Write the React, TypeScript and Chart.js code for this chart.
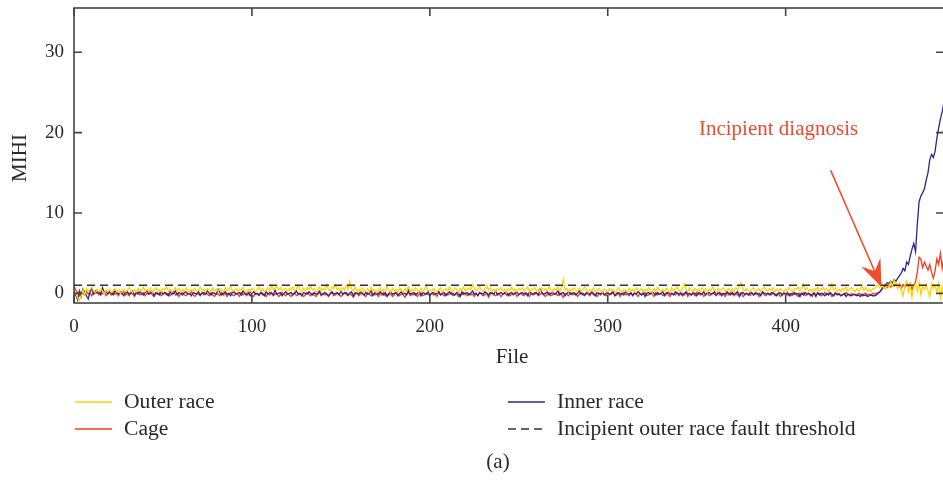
import React, { useEffect, useRef } from "react";
import { Chart, registerables } from "chart.js";
Chart.register(...registerables);

// ---------- data ----------
const OUTER_RACE = [
  0.3, 0.1, -0.6, -0.9, -0.3, 0.4, -0.2, 0.6, 0.2, 0.5,
  0.8, 0.3, 0.1, 0.4, 0.2, 0.6, 0.3, 0.0, 0.4, 0.2,
  0.5, 0.1, 0.3, 0.6, 0.2, 0.4, 0.0, 0.3, 0.5, 0.2,
  0.4, 0.7, 0.3, 0.1, 0.5, 0.2, 0.6, 0.3, 0.4, 0.8,
  0.2, 0.5, 0.3, 0.6, 0.1, 0.4, 0.7, 0.3, 0.5, 0.2,
  0.6, 0.4, 0.8, 0.3, 0.5, 0.2, 0.4, 0.7, 0.3, 0.6,
  0.2, 0.5, 0.3, 0.7, 0.4, 0.1, 0.5, 0.3, 0.6, 0.2,
  0.4, 0.8, 0.3, 0.5, 0.2, 0.6, 0.4, 0.3, 0.7, 0.2,
  0.5, 0.3, 0.6, 0.4, 0.2, 0.7, 0.3, 0.5, 0.9, 0.4,
  0.3, 0.6, 0.2, 0.5, 0.4, 0.7, 0.3, 0.1, 0.5, 0.3,
  0.6, 0.4, 0.2, 0.5, 0.8, 0.3, 0.6, 0.2, 0.4, 0.7,
  0.3, 1.0, 0.5, 0.6, 0.9, 0.4, 0.7, 0.3, 0.5, 0.6,
  0.2, 0.6, 0.4, 0.8, 0.3, 0.5, 1.0, 0.4, 0.2, 0.6,
  0.3, 0.7, 0.5, 0.9, 0.4, 0.6, 0.2, 0.5, 0.8, 0.3,
  0.6, 0.4, 1.1, 0.5, 0.3, 0.8, 0.6, 1.0, 0.4, 0.7,
  0.3, 0.7, 0.4, 1.0, 0.5, 1.5, 0.6, 0.3, 0.8, 0.2,
  0.5, 0.3, 0.7, 0.1, 0.4, 0.6, 0.2, 0.8, 0.3, 0.5,
  0.1, 0.4, 0.7, 0.2, 0.5, 0.3, 0.9, 0.4, 0.1, 0.6,
  0.3, 0.5, 0.2, 0.7, 0.4, 0.1, 0.6, 0.3, 0.8, 0.2,
  0.5, 0.3, 0.7, 0.4, 0.1, 0.6, 0.2, 0.5, 0.9, 0.3,
  0.4, 0.2, 0.6, 0.3, 0.1, 0.5, 0.7, 0.2, 0.4, 0.6,
  0.3, 0.8, 0.4, 0.2, 0.7, 0.5, 0.1, 0.6, 0.4, 0.8,
  0.3, 0.5, 0.7, 0.4, 1.1, 0.6, 0.3, 0.5, 0.8, 0.4,
  0.2, 0.6, 1.0, 0.4, 0.7, 0.3, 0.5, 0.2, 0.6, 0.4,
  0.7, 0.3, 0.5, 0.1, 0.6, 0.4, 0.8, 0.3, 0.5, 0.2,
  0.6, 0.4, 0.7, 0.3, 0.5, 0.8, 0.2, 0.6, 0.4, 0.7,
  0.3, 0.5, 0.2, 0.7, 0.4, 0.6, 0.3, 0.8, 0.5, 0.2,
  0.6, 0.4, 0.8, 0.3, 0.7, 1.7, 0.4, 0.6, 0.2, 0.5,
  0.3, 0.7, 0.4, 0.2, 0.6, 0.3, 0.5, 0.8, 0.4, 0.1,
  0.5, 0.3, 0.7, 0.2, 0.4, 0.6, 0.3, 0.1, 0.5, 0.4,
  0.2, 0.6, 0.3, 0.5, 0.1, 0.4, 0.7, 0.3, 0.2, 0.5,
  0.4, 0.1, 0.6, 0.3, 0.5, 0.2, 0.7, 0.4, 0.3, 0.6,
  0.2, 0.5, 0.3, 0.7, 0.4, 0.1, 0.6, 0.3, 0.8, 0.4,
  0.2, 0.5, 0.3, 0.6, 0.4, 0.1, 0.7, 0.3, 0.5, 0.8,
  0.4, 0.2, 0.6, 1.2, 0.5, 0.3, 0.7, 0.4, 0.2, 0.6,
  0.3, 0.5, 0.2, 0.7, 0.4, 0.6, 0.1, 0.5, 0.3, 0.8,
  0.4, 0.2, 0.6, 0.3, 0.5, 0.7, 0.2, 0.4, 0.6, 0.3,
  0.5, 0.2, 0.7, 0.4, 0.9, 1.3, 0.5, 0.3, 0.6, 0.4,
  0.2, 0.5, 0.7, 0.3, 0.4, 0.6, 0.2, 0.5, 0.8, 0.4,
  0.3, 0.6, 0.4, 0.7, 0.2, 0.5, 0.3, 0.6, 0.4, 0.2,
  0.5, 0.3, 0.7, 0.4, 0.2, 0.6, 0.5, 0.8, 0.3, 0.6,
  1.1, 0.4, 0.7, 0.3, 0.5, 0.2, 0.6, 0.4, 0.8, 0.3,
  0.5, 0.7, 0.4, 0.6, 0.2, 0.5, 1.2, 0.4, 0.7, 0.3,
  0.5, 0.2, 0.6, 0.4, 0.8, 0.3, 0.5, 0.7, 0.4, 0.2,
  0.6, 0.3, 0.5, 0.9, 0.4, 0.7, 0.3, 0.5, 0.2, 0.6,
  0.6, 0.9, 1.0, 0.7, 1.2, 0.8, 0.5, 1.1, 0.7, 1.4,
  0.9, 1.6, 1.2, 0.6, 1.3, 0.4, -0.3, 0.9, 1.5, 0.2,
  1.0, -0.5, 0.8, 1.2, 0.3, 1.4, -0.2, 0.9, 0.5, 1.1,
  0.4, -0.4, 1.2, 0.6, 0.9, 0.2, 1.3, -0.6, 0.8, -0.9,
];

const CAGE = [
  0.9, 0.4, 0.1, -0.3, 0.2, 0.0, -0.2, 0.3, -0.1, 0.1,
  -0.3, 0.2, 0.0, 0.4, -0.2, 0.1, -0.1, 0.2, -0.3, 0.0,
  0.1, -0.2, 0.2, -0.1, 0.0, -0.3, 0.1, -0.1, 0.2, -0.2,
  0.0, -0.3, 0.1, -0.1, -0.4, 0.0, 0.2, -0.2, -0.1, 0.1,
  -0.3, 0.0, -0.1, 0.2, -0.2, -0.4, 0.0, -0.1, 0.1, -0.3,
  -0.1, 0.1, -0.2, 0.0, -0.3, -0.1, 0.2, -0.2, 0.0, -0.4,
  -0.1, 0.1, -0.2, -0.3, 0.0, -0.1, 0.2, -0.2, -0.4, 0.0,
  -0.1, -0.3, 0.1, -0.2, 0.0, -0.1, -0.3, 0.1, -0.2, -0.4,
  0.0, -0.1, -0.3, 0.1, -0.2, 0.0, -0.4, -0.1, 0.1, -0.2,
  -0.3, 0.0, -0.1, -0.4, 0.1, -0.2, 0.0, -0.3, -0.1, 0.2,
  -0.2, -0.4, 0.0, -0.1, -0.3, 0.1, -0.2, -0.1, -0.4, 0.0,
  -0.2, 0.1, -0.3, -0.1, 0.0, -0.4, -0.2, 0.1, -0.1, -0.3,
  0.0, -0.2, -0.4, -0.1, 0.1, -0.3, -0.2, 0.0, -0.1, -0.4,
  -0.2, 0.1, -0.1, -0.3, 0.0, -0.2, -0.4, -0.1, 0.1, -0.3,
  -0.1, -0.2, 0.0, -0.4, -0.1, 0.1, -0.3, -0.2, 0.0, -0.1,
  -0.4, -0.2, 0.1, -0.1, -0.3, 0.0, -0.2, -0.5, -0.1, 0.1,
  -0.3, -0.1, 0.0, -0.2, -0.4, 0.1, -0.1, -0.3, 0.0, -0.2,
  -0.1, -0.4, 0.0, -0.2, 0.1, -0.3, -0.1, -0.2, 0.0, -0.4,
  -0.2, 0.1, -0.1, -0.3, 0.0, -0.2, -0.5, -0.1, 0.1, -0.3,
  -0.1, -0.2, 0.0, -0.4, -0.1, 0.1, -0.3, -0.2, 0.0, -0.1,
  -0.3, 0.0, -0.2, -0.1, -0.4, 0.1, -0.2, -0.1, -0.3, 0.0,
  -0.2, -0.1, 0.1, -0.3, -0.2, 0.0, -0.4, -0.1, -0.2, 0.1,
  -0.1, -0.3, 0.0, -0.2, -0.1, -0.4, 0.0, -0.2, 0.1, -0.1,
  -0.3, -0.2, 0.0, -0.5, -0.1, 0.1, -0.2, -0.3, 0.0, -0.1,
  -0.4, -0.1, 0.1, -0.2, 0.0, -0.3, -0.1, -0.2, 0.1, -0.4,
  -0.1, 0.0, -0.2, -0.3, 0.1, -0.1, -0.4, 0.0, -0.2, -0.1,
  0.1, -0.3, -0.1, 0.0, -0.2, -0.4, -0.1, 0.1, -0.3, -0.2,
  0.0, -0.1, -0.3, 0.1, -0.2, -0.5, 0.0, -0.1, -0.3, 0.1,
  -0.2, -0.1, 0.0, -0.4, -0.1, 0.1, -0.2, -0.3, 0.0, -0.1,
  -0.3, 0.1, -0.2, -0.1, -0.4, 0.0, -0.2, 0.1, -0.1, -0.3,
  0.0, -0.2, -0.1, 0.1, -0.3, -0.2, 0.0, -0.4, -0.1, 0.1,
  -0.2, -0.1, -0.3, 0.0, -0.2, 0.1, -0.1, -0.4, 0.0, -0.2,
  -0.1, 0.1, -0.3, -0.2, 0.0, -0.1, -0.4, 0.1, -0.2, -0.1,
  0.0, -0.3, -0.1, 0.1, -0.2, -0.4, 0.0, -0.1, -0.2, 0.1,
  -0.3, -0.1, 0.0, -0.2, 0.1, -0.4, -0.1, -0.2, 0.0, -0.3,
  0.1, -0.1, -0.2, 0.0, -0.4, -0.1, 0.1, -0.3, -0.2, 0.0,
  -0.1, -0.3, 0.1, -0.2, 0.0, -0.1, -0.4, 0.0, -0.2, 0.1,
  -0.1, -0.3, 0.0, -0.2, -0.1, 0.1, -0.4, -0.2, 0.0, -0.1,
  -0.3, 0.1, -0.2, -0.1, 0.0, -0.4, -0.1, 0.1, -0.2, -0.3,
  0.0, -0.1, -0.2, 0.1, -0.3, -0.1, 0.0, -0.4, -0.2, 0.1,
  -0.1, -0.2, 0.0, -0.3, 0.1, -0.1, -0.2, -0.4, 0.0, -0.1,
  0.1, -0.3, -0.2, 0.0, -0.1, -0.4, 0.1, -0.2, -0.1, 0.0,
  -0.3, -0.1, 0.1, -0.2, 0.0, -0.1, -0.4, -0.2, 0.1, -0.1,
  0.0, -0.3, -0.1, -0.2, 0.1, -0.1, -0.3, 0.0, -0.2, -0.1,
  -0.2, 0.0, -0.1, -0.3, -0.1, 0.0, -0.2, -0.1, -0.2, 0.0,
  -0.1, 0.0, 0.1, 0.2, 0.5, 0.8, 0.9, 0.7, 1.0, 0.8,
  1.1, 0.9, 1.2, 0.7, 1.0, 0.6, 1.1, 0.8, 1.3, 0.9,
  1.2, 0.5, 1.0, 1.4, 2.6, 4.5, 4.3, 3.2, 3.9, 3.4,
  2.9, 3.6, 2.6, 1.9, 2.8, 4.3, 3.6, 5.0, 3.1, 4.5,
];

const INNER_RACE = [
  0.0, -0.2, -0.8, 0.3, -0.4, 0.5, 0.1, -0.3, -0.7, 0.2,
  0.6, -0.1, 0.3, 0.0, 0.2, -0.2, 0.7, 0.1, 0.3, -0.1,
  0.2, 0.0, -0.2, 0.3, 0.1, -0.1, 0.2, 0.0, -0.3, 0.1,
  0.2, -0.1, 0.0, 0.3, -0.2, 0.1, -0.1, 0.2, 0.0, -0.2,
  0.1, 0.3, -0.1, 0.0, 0.2, -0.3, 0.1, 0.0, -0.2, 0.2,
  -0.1, 0.1, 0.0, -0.3, 0.2, -0.1, 0.0, 0.3, -0.2, 0.1,
  0.0, -0.2, 0.1, 0.2, -0.1, 0.0, -0.3, 0.1, 0.0, -0.1,
  0.2, -0.2, 0.0, 0.1, -0.1, 0.3, 0.0, -0.2, 0.1, 0.0,
  -0.1, 0.5, 0.1, -0.2, 0.0, 0.2, -0.1, 0.0, -0.3, 0.1,
  0.2, -0.1, 0.0, 0.1, -0.2, 0.3, 0.0, -0.1, 0.1, -0.3,
  0.0, 0.2, -0.1, 0.0, -0.2, 0.1, 0.0, -0.3, 0.2, -0.1,
  0.1, 0.0, -0.2, 0.4, -0.1, 0.0, 0.1, -0.3, 0.0, 0.2,
  -0.1, 0.0, 0.1, -0.2, 0.0, 0.3, -0.1, 0.0, -0.3, 0.1,
  0.0, -0.1, 0.2, 0.0, -0.2, 0.1, -0.1, 0.0, 0.3, -0.2,
  0.0, 0.1, -0.1, -0.3, 0.0, 0.2, -0.1, 0.0, 0.1, -0.2,
  0.3, -0.1, 0.0, 0.1, -0.2, 0.0, 0.2, -0.3, 0.1, 0.0,
  -0.1, 0.2, 0.0, -0.2, 0.1, -0.1, 0.0, 0.3, -0.3, 0.1,
  0.0, -0.1, 0.2, 0.0, -0.2, 0.1, -0.4, 0.0, 0.2, -0.1,
  0.0, 0.1, -0.3, 0.0, 0.2, -0.1, 0.0, -0.2, 0.4, -0.1,
  0.0, 0.1, -0.2, 0.0, 0.2, -0.3, 0.1, 0.0, -0.1, 0.2,
  -0.2, 0.0, 0.1, -0.1, 0.0, 0.3, -0.2, 0.0, 0.1, -0.3,
  0.0, 0.2, -0.1, 0.0, -0.2, 0.1, 0.0, -0.4, 0.2, -0.1,
  0.0, 0.1, -0.2, 0.0, 0.3, -0.1, 0.0, -0.3, 0.1, 0.0,
  -0.1, 0.2, 0.0, -0.2, 0.1, 0.0, -0.1, 0.3, -0.2, 0.0,
  0.1, -0.1, 0.0, 0.2, -0.3, 0.0, 0.1, -0.1, 0.0, 0.2,
  -0.2, 0.0, 0.1, -0.1, 0.0, -0.3, 0.2, 0.0, -0.1, 0.1,
  0.0, -0.2, 0.5, 0.1, -0.1, 0.0, 0.2, -0.2, 0.0, 0.1,
  -0.1, 0.0, 0.3, -0.2, 0.0, 0.1, -0.3, 0.0, 0.2, -0.1,
  0.0, 0.1, -0.2, 0.0, 0.3, -0.1, 0.0, -0.2, 0.1, 0.0,
  -0.1, 0.2, 0.0, -0.3, 0.1, 0.0, -0.1, 0.2, -0.2, 0.0,
  0.1, -0.1, 0.0, 0.2, -0.3, 0.0, 0.1, -0.1, 0.0, -0.2,
  0.2, 0.0, -0.1, 0.1, -0.3, 0.0, -0.1, 0.2, 0.0, -0.2,
  0.1, -0.4, 0.0, 0.1, -0.1, 0.2, 0.0, -0.2, 0.1, -0.1,
  0.0, 0.2, -0.3, 0.0, 0.1, -0.1, 0.0, -0.2, 0.2, 0.0,
  -0.1, 0.1, -0.3, 0.0, 0.2, -0.1, 0.0, -0.2, 0.1, 0.0,
  -0.3, 0.1, 0.0, -0.1, 0.2, -0.2, 0.0, 0.1, -0.1, 0.0,
  0.2, -0.2, 0.0, 0.1, -0.3, 0.0, -0.1, 0.2, 0.0, -0.2,
  0.1, -0.1, 0.0, 0.2, -0.4, 0.0, 0.1, -0.1, 0.0, -0.2,
  0.1, 0.0, -0.2, 0.1, -0.1, 0.0, -0.3, 0.2, 0.0, -0.1,
  0.0, -0.2, 0.1, 0.0, -0.1, -0.3, 0.0, 0.1, -0.2, 0.0,
  -0.1, 0.1, -0.3, 0.0, -0.2, 0.1, -0.1, 0.0, -0.4, 0.0,
  -0.2, 0.1, -0.1, 0.0, -0.3, -0.1, 0.0, -0.4, 0.1, -0.2,
  0.0, -0.1, -0.3, 0.0, -0.2, 0.1, -0.1, -0.3, 0.0, -0.2,
  -0.1, -0.3, -0.2, 0.0, -0.4, -0.1, -0.2, -0.3, -0.1, -0.2,
  -0.3, -0.2, -0.4, -0.1, -0.3, -0.2, -0.4, -0.3, -0.2, -0.3,
  -0.3, -0.2, 0.0, 0.2, 0.5, 0.8, 1.0, 1.3, 1.2, 1.5,
  1.3, 1.7, 1.5, 1.9, 2.2, 2.5, 3.1, 2.8, 3.9, 3.6,
  4.6, 5.5, 6.2, 5.2, 8.6, 11.4, 12.1, 12.5, 13.0, 14.1,
  15.0, 16.6, 17.3, 16.9, 17.7, 19.3, 20.6, 21.7, 22.6, 23.8,
];

const THRESHOLD = 1;
const X_TICKS = [0, 100, 200, 300, 400];
const Y_TICKS = [0, 10, 20, 30];
const X_MIN = 0;
const X_MAX = 489;
const Y_MIN = -1.2;
const Y_MAX = 35.5;

const SERIES_LABELS = ["Outer race", "Cage", "Inner race", "Incipient outer race fault threshold"];
const ANNOTATION_TEXT = "Incipient diagnosis";
const ANNOTATION_TEXT_AT = [396, 20.4];
const ARROW_FROM = [425.3, 15.3];
const ARROW_TO = [453.9, 0.8];

// ---------- styles ----------
const YELLOW = "#FFD200";
const RED = "#F23B20";
const BLUE = "#2C2790";
const DASH_COLOR = "#333333";
const AXIS_COLOR = "#444444";
const TEXT_COLOR = "#2a2a2a";
const ANNOT_COLOR = "#EF4B2E";
const FONT = "'Liberation Serif', 'Times New Roman', serif";
const TEXT_SIZE = 21;
const LEGEND_SIZE = 21.6;

const frame = {
  id: "frame",
  afterDraw(chart: any) {
    const { ctx, chartArea } = chart;
    const { left, top, right, bottom } = chartArea;
    const xs = chart.scales.x;
    const ys = chart.scales.y;
    const TICK = 8;
    ctx.save();
    // box
    ctx.strokeStyle = AXIS_COLOR;
    ctx.lineWidth = 1.6;
    ctx.setLineDash([]);
    ctx.strokeRect(left, top, right - left, bottom - top);
    ctx.beginPath();
    X_TICKS.forEach((v) => {
      const px = xs.getPixelForValue(v);
      ctx.moveTo(px, bottom);
      ctx.lineTo(px, bottom - TICK);
      ctx.moveTo(px, top);
      ctx.lineTo(px, top + TICK);
    });
    Y_TICKS.forEach((v) => {
      const py = ys.getPixelForValue(v);
      ctx.moveTo(left, py);
      ctx.lineTo(left + TICK, py);
      ctx.moveTo(right, py);
      ctx.lineTo(right - TICK, py);
    });
    ctx.stroke();

    // axis titles
    ctx.fillStyle = TEXT_COLOR;
    ctx.font = `${TEXT_SIZE}px ${FONT}`;
    ctx.textAlign = "center";
    ctx.textBaseline = "middle";
    ctx.fillText("File", 512, 357);
    ctx.save();
    ctx.translate(20, 158);
    ctx.rotate(-Math.PI / 2);
    ctx.fillText("MIHI", 0, 0);
    ctx.restore();

    // legend
    ctx.font = `${LEGEND_SIZE}px ${FONT}`;
    const ds = chart.data.datasets;
    const items = [
      { i: 0, x: 75, y: 402 },
      { i: 1, x: 75, y: 429 },
      { i: 2, x: 508, y: 402 },
      { i: 3, x: 508, y: 429 },
    ];
    items.forEach(({ i, x, y }) => {
      const d = ds[i];
      ctx.beginPath();
      ctx.strokeStyle = d.borderColor;
      ctx.lineWidth = d.borderWidth;
      ctx.setLineDash(d.borderDash || []);
      ctx.moveTo(x, y);
      ctx.lineTo(x + 37, y);
      ctx.stroke();
      ctx.setLineDash([]);
      ctx.fillStyle = TEXT_COLOR;
      ctx.textAlign = "left";
      ctx.textBaseline = "middle";
      ctx.fillText(d.label, x + 49, y);
    });
    ctx.font = `${TEXT_SIZE}px ${FONT}`;
    ctx.textAlign = "center";
    ctx.fillText("(a)", 498, 462);

    // annotation
    ctx.fillStyle = ANNOT_COLOR;
    ctx.strokeStyle = ANNOT_COLOR;
    ctx.fillText(ANNOTATION_TEXT, xs.getPixelForValue(ANNOTATION_TEXT_AT[0]), ys.getPixelForValue(ANNOTATION_TEXT_AT[1]));
    const x0 = xs.getPixelForValue(ARROW_FROM[0]);
    const y0 = ys.getPixelForValue(ARROW_FROM[1]);
    const x1 = xs.getPixelForValue(ARROW_TO[0]);
    const y1 = ys.getPixelForValue(ARROW_TO[1]);
    const len = Math.hypot(x1 - x0, y1 - y0);
    const ux = (x1 - x0) / len;
    const uy = (y1 - y0) / len;
    const nx = -uy;
    const ny = ux;
    const HEAD = 27;
    const HALF = 10.5;
    const NOTCH = 17;
    ctx.lineWidth = 1.5;
    ctx.beginPath();
    ctx.moveTo(x0, y0);
    ctx.lineTo(x1 - ux * NOTCH, y1 - uy * NOTCH);
    ctx.stroke();
    ctx.beginPath();
    ctx.moveTo(x1, y1);
    ctx.lineTo(x1 - ux * HEAD + nx * HALF, y1 - uy * HEAD + ny * HALF);
    ctx.lineTo(x1 - ux * NOTCH, y1 - uy * NOTCH);
    ctx.lineTo(x1 - ux * HEAD - nx * HALF, y1 - uy * HEAD - ny * HALF);
    ctx.closePath();
    ctx.fill();
    ctx.restore();
  },
};

export default function App() {
  const ref = useRef<HTMLCanvasElement | null>(null);
  useEffect(() => {
    if (!ref.current) return;
    Chart.defaults.font.family = FONT;
    const files = OUTER_RACE.map((_, i) => i);
    const pts = (arr: number[]) => arr.map((y, i) => ({ x: files[i], y }));
    const line = { pointRadius: 0, tension: 0, fill: false, borderWidth: 1.3 };
    const chart = new Chart(ref.current, {
      type: "line",
      data: {
        datasets: [
          { ...line, label: SERIES_LABELS[0], data: pts(OUTER_RACE), borderColor: YELLOW, order: 1 },
          { ...line, label: SERIES_LABELS[1], data: pts(CAGE), borderColor: RED, order: 3 },
          { ...line, label: SERIES_LABELS[2], data: pts(INNER_RACE), borderColor: BLUE, order: 2 },
          {
            ...line,
            label: SERIES_LABELS[3],
            data: [
              { x: X_MIN, y: THRESHOLD },
              { x: X_MAX, y: THRESHOLD },
            ],
            borderColor: DASH_COLOR,
            borderDash: [8, 5],
            borderWidth: 1.5,
            order: 0,
          },
        ] as any,
      },
      options: {
        responsive: false,
        maintainAspectRatio: false,
        animation: false,
        layout: { padding: { left: 0, top: 8, right: 8, bottom: 0 } },
        plugins: { legend: { display: false }, tooltip: { enabled: false }, title: { display: false } },
        scales: {
          x: {
            type: "linear",
            min: X_MIN,
            max: X_MAX,
            grid: { display: false, drawTicks: false },
            border: { display: false },
            ticks: { autoSkip: false, maxRotation: 0, padding: 13, color: TEXT_COLOR, font: { size: 19, family: FONT } },
            afterBuildTicks: (s: any) => {
              s.ticks = X_TICKS.map((value) => ({ value }));
            },
            afterFit: (s: any) => {
              s.height = 178;
              s.paddingLeft = 0;
              s.paddingRight = 0;
            },
          },
          y: {
            type: "linear",
            min: Y_MIN,
            max: Y_MAX,
            grid: { display: false, drawTicks: false },
            border: { display: false },
            ticks: { autoSkip: false, padding: 10, color: TEXT_COLOR, font: { size: 19, family: FONT } },
            afterBuildTicks: (s: any) => {
              s.ticks = Y_TICKS.map((value) => ({ value }));
            },
            afterFit: (s: any) => {
              s.width = 74;
              s.paddingTop = 0;
              s.paddingBottom = 0;
            },
          },
        },
      },
      plugins: [frame],
    });
    return () => chart.destroy();
  }, []);
  return (
    <div style={{ position: "fixed", left: 0, top: 0, width: 943, height: 481, overflow: "hidden", background: "#fff" }}>
      <canvas ref={ref} width={952} height={481} style={{ display: "block", width: 952, height: 481 }} />
    </div>
  );
}
